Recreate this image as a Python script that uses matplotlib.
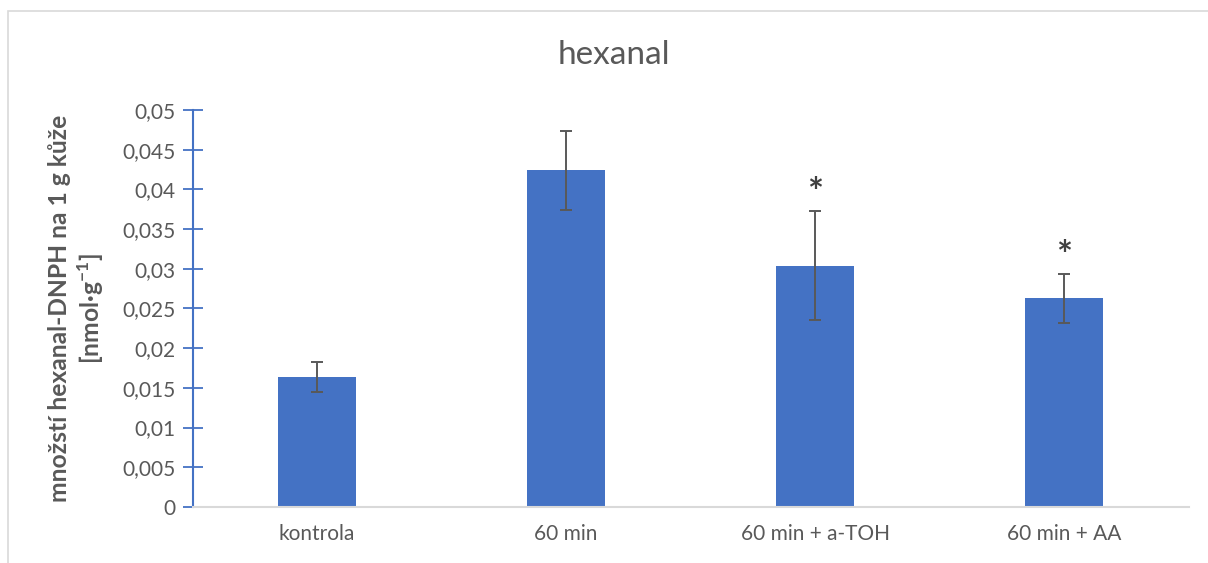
import matplotlib.pyplot as plt
from matplotlib.patches import Rectangle

# hodnoty
kategorie = ['kontrola', '60 min', '60 min + a-TOH', '60 min + AA']
hodnoty = [0.0164, 0.0424, 0.0304, 0.0263]
chyby = [0.0019, 0.0050, 0.0069, 0.0031]
hvezdicky = ['', '', '*', '*']

yticks = [0, 0.005, 0.01, 0.015, 0.02, 0.025, 0.03, 0.035, 0.04, 0.045, 0.05]
ytick_labels = ['0', '0,005', '0,01', '0,015', '0,02', '0,025', '0,03',
                '0,035', '0,04', '0,045', '0,05']

plt.rcParams['font.family'] = ['Lato', 'DejaVu Sans']
plt.rcParams['mathtext.fontset'] = 'custom'
plt.rcParams['mathtext.bf'] = 'Lato:bold'
seda = '#595959'
modra = '#4472C4'

fig = plt.figure(figsize=(12.08, 5.63), dpi=100)
ax = fig.add_axes([0.1594, 0.0995, 0.8245, 0.7051])

# ramecek kolem celeho grafu
fig.patches.append(Rectangle((0.007, -0.01), 1.1, 0.99, transform=fig.transFigure,
                             fill=False, edgecolor='#D9D9D9', linewidth=1.2))

x = range(len(kategorie))
ax.bar(x, hodnoty, width=0.313, color=modra, zorder=2)
ax.errorbar(x, hodnoty, yerr=chyby, fmt='none', ecolor=seda, elinewidth=1.4,
            capsize=4.5, capthick=1.4, zorder=3)

for i in x:
    if hvezdicky[i]:
        ax.text(i, hodnoty[i] + chyby[i] + 0.0021, hvezdicky[i], ha='center', va='center',
                fontsize=27, fontweight='bold', color='#404040')

ax.set_xlim(-0.5, 3.5)
ax.set_ylim(0, 0.05)
ax.set_xticks(list(x))
ax.set_xticklabels(kategorie, fontsize=15, color=seda)
ax.tick_params(axis='x', length=0, pad=12)
ax.set_yticks(yticks)
ax.set_yticklabels(ytick_labels, fontsize=15, color=seda)
ax.tick_params(axis='y', direction='inout', length=14, width=1.3, color=modra, pad=5)

for s in ['top', 'right']:
    ax.spines[s].set_visible(False)
ax.spines['left'].set_color(modra)
ax.spines['left'].set_linewidth(1.5)
ax.spines['bottom'].set_color('#D9D9D9')
ax.spines['bottom'].set_linewidth(1.5)

ax.set_ylabel('množstí hexanal-DNPH na 1 g kůže\n[nmol·g$^{\\mathbf{-1}}$]',
              fontsize=17.7, fontweight='bold', color=seda, labelpad=12)
fig.text(0.508, 0.903, 'hexanal', ha='center', va='center', fontsize=24, color=seda)

fig.savefig('out.png', dpi=100, facecolor='white')
